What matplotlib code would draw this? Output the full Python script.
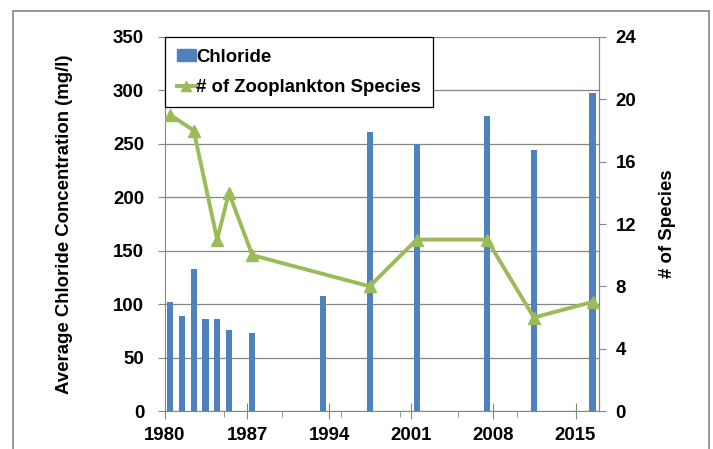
import numpy as np
import matplotlib.pyplot as plt
from matplotlib.patches import Rectangle, Patch
from matplotlib.lines import Line2D
from matplotlib.ticker import MultipleLocator

plt.rcParams["font.family"] = ["Liberation Sans", "DejaVu Sans"]
plt.rcParams["font.weight"] = "bold"

# sampling years (taken around mid-year)
chloride_years = [1980, 1981, 1982, 1983, 1984, 1985, 1987, 1993, 1997, 2001, 2007, 2011, 2016]
chloride = [102, 89, 133, 86, 86, 76, 73, 108, 261, 250, 276, 244, 298]

species_years = [1980, 1982, 1984, 1985, 1987, 1997, 2001, 2007, 2011, 2016]
species = [19, 18, 11, 14, 10, 8, 11, 11, 6, 7]

x_ticks = [1980, 1987, 1994, 2001, 2008, 2015]

blue = "#4F81BD"
green = "#9BBB59"
grey = "#868686"
fs = 13.4

xb = np.array(chloride_years) + 0.45
xs = np.array(species_years) + 0.45

fig = plt.figure(figsize=(7.13, 4.49), dpi=100)
ax1 = fig.add_axes([0.2314, 0.0846, 0.6087, 0.833])
ax2 = ax1.twinx()

ax1.bar(xb, chloride, width=0.52, color=blue, zorder=2)
ax1.set_ylim(0, 350)
ax1.set_xlim(1980, 2017)
ax1.yaxis.set_major_locator(MultipleLocator(50))
ax1.set_xticks(x_ticks)
ax1.set_xticks(range(1985, 2017, 5), minor=True)
ax1.grid(axis="y", color=grey, lw=0.9, zorder=0)
ax1.set_axisbelow(True)

ax2.plot(xs, species, color=green, lw=2.8, marker="^", ms=9, zorder=3)
ax2.set_ylim(0, 24)
ax2.yaxis.set_major_locator(MultipleLocator(4))

for ax in (ax1, ax2):
    for s in ax.spines.values():
        s.set_color(grey)
    ax.spines["top"].set_visible(False)
ax2.spines["left"].set_visible(False)
ax2.spines["bottom"].set_visible(False)

ax1.tick_params(axis="y", direction="out", length=5, color=grey, labelsize=fs, pad=10)
ax2.tick_params(axis="y", direction="out", length=5, color=grey, labelsize=fs, pad=7)
ax1.tick_params(axis="x", which="major", direction="inout", length=11, color=grey,
                labelsize=fs, pad=6)
ax1.tick_params(axis="x", which="minor", direction="out", length=4, color=grey)

ax1.set_ylabel("Average Chloride Concentration (mg/l)", fontsize=fs, fontweight="bold", labelpad=29)
ax2.set_ylabel("# of Species", fontsize=fs, fontweight="bold", labelpad=16)

handles = [Patch(color=blue), Line2D([], [], color=green, lw=2.8, marker="^", ms=7)]
leg = ax2.legend(handles, ["Chloride", "# of Zooplankton Species"], loc="upper left",
                 bbox_to_anchor=(0, 1), borderaxespad=0, fancybox=False,
                 framealpha=1, edgecolor="black", fontsize=fs, handlelength=1.07,
                 handleheight=0.62, handletextpad=0.0, labelspacing=0.72, borderpad=0.62)
leg.get_frame().set_linewidth(0.9)

fig.patches.append(Rectangle((13 / 713, -0.1), 696 / 713, 1.1 - 11 / 449,
                             transform=fig.transFigure, fill=False,
                             edgecolor=grey, lw=1.2))

fig.savefig("out.png", dpi=100)
